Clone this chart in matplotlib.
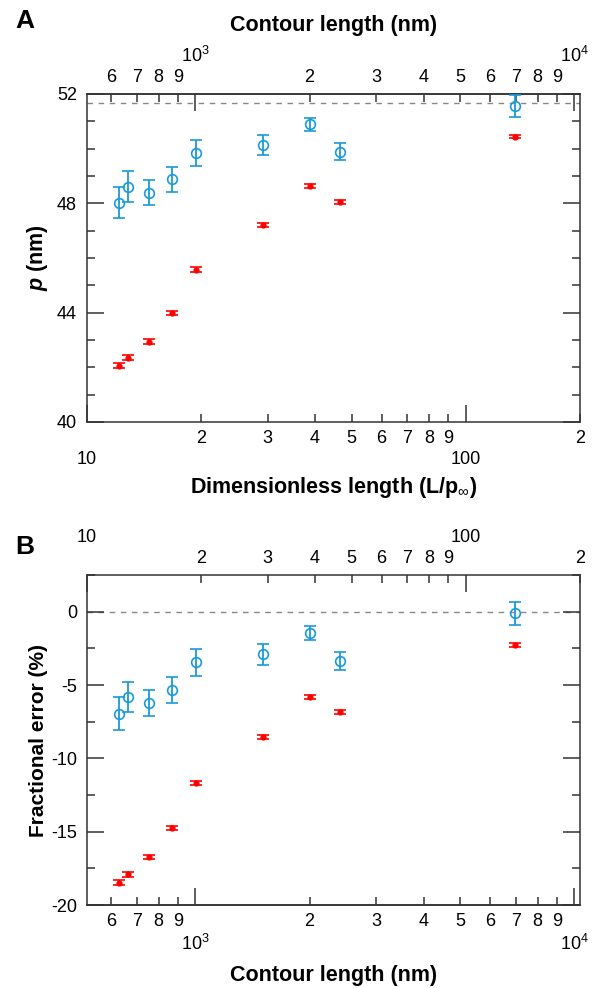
import numpy as np
import matplotlib
matplotlib.use('agg')
import matplotlib.pyplot as plt
from matplotlib.ticker import FixedLocator, FixedFormatter, FuncFormatter, MultipleLocator, NullFormatter

plt.rcParams['font.family'] = ['Liberation Sans', 'DejaVu Sans']
plt.rcParams['mathtext.fontset'] = 'custom'
plt.rcParams['mathtext.rm'] = 'Liberation Sans'
plt.rcParams['mathtext.it'] = 'Liberation Sans:italic'
plt.rcParams['mathtext.bf'] = 'Liberation Sans:bold'
plt.rcParams['mathtext.bfit'] = 'Liberation Sans:italic:bold'
plt.rcParams['axes.unicode_minus'] = False

# persistence length at infinite contour length (nm)
p_inf = 51.65

# contour lengths of the chains (nm)
contour = [630, 665, 755, 865, 1005, 1510, 2000, 2410, 6970]

# panel A: apparent persistence length (nm)
p_blue = [48.02, 48.61, 48.39, 48.87, 49.83, 50.13, 50.88, 49.88, 51.56]
p_blue_err = [0.57, 0.55, 0.45, 0.45, 0.48, 0.37, 0.24, 0.31, 0.41]
p_red = [42.06, 42.35, 42.94, 43.99, 45.57, 47.21, 48.62, 48.05, 50.44]
p_red_err = [0.09, 0.09, 0.09, 0.08, 0.08, 0.07, 0.07, 0.07, 0.07]

# panel B: fractional error (%)
f_blue = [-6.95, -5.82, -6.25, -5.32, -3.45, -2.91, -1.43, -3.36, -0.11]
f_blue_err = [1.14, 1.05, 0.88, 0.88, 0.93, 0.73, 0.48, 0.60, 0.77]
f_red = [-18.49, -17.90, -16.72, -14.73, -11.70, -8.52, -5.80, -6.86, -2.27]
f_red_err = [0.17, 0.17, 0.16, 0.15, 0.15, 0.14, 0.13, 0.13, 0.13]

dimless = np.array(contour) / p_inf

blue = '#1a9ad8'
red = '#ff0000'
axcol = '#333333'
tsize = 13
lsize = 15.5

dim_major = [10, 100]
dim_major_lab = ['10', '100']
dim_minor = [20, 30, 40, 50, 60, 70, 80, 90, 200]
con_major = [1000, 10000]
con_major_lab = ['$10^{3}$', '$10^{4}$']
con_minor = [600, 700, 800, 900, 2000, 3000, 4000, 5000, 6000, 7000, 8000, 9000]


def lead_digit(v, pos):
    return '%d' % round(v / 10 ** np.floor(np.log10(v) + 1e-9))


def set_log_ticks(axis, majors, major_labels, minors):
    axis.set_major_locator(FixedLocator(majors))
    axis.set_major_formatter(FixedFormatter(major_labels))
    axis.set_minor_locator(FixedLocator(minors))
    axis.set_minor_formatter(FuncFormatter(lead_digit))


def style_x(ax_, major_pad=21):
    ax_.tick_params(axis='x', which='major', direction='in', length=12, width=1.1,
                    pad=major_pad, labelsize=tsize, color=axcol)
    ax_.tick_params(axis='x', which='minor', direction='in', length=5.5, width=1.1,
                    pad=6, labelsize=tsize, color=axcol)


def style_y(ax_):
    ax_.tick_params(axis='y', which='both', direction='in', left=True, right=True,
                    labelright=False, width=1.1, labelsize=tsize, pad=7, color=axcol)
    ax_.tick_params(axis='y', which='major', length=12)
    ax_.tick_params(axis='y', which='minor', length=5.5)
    for s in ax_.spines.values():
        s.set_color(axcol)
        s.set_linewidth(1.1)


fig = plt.figure(figsize=(5.94, 9.88), dpi=100)
inv = (lambda x: x * p_inf, lambda x: x / p_inf)

# ---------------- panel A
axA = fig.add_axes([0.146, 0.573, 0.830, 0.332])
axA.set_xscale('log')
axA.axhline(p_inf, color='#888888', lw=1, ls=(0, (4, 4)), zorder=1)
axA.errorbar(dimless, p_blue, yerr=p_blue_err, fmt='o', ms=7, mfc='none', mec=blue,
             mew=1.2, ecolor=blue, elinewidth=1.3, capsize=4.5, capthick=1.3, zorder=3)
axA.errorbar(dimless, p_red, yerr=p_red_err, fmt='o', ms=3.5, mfc=red, mec=red,
             ecolor=red, elinewidth=1.2, capsize=4.5, capthick=1.2, zorder=3)
axA.set_xlim(10, 200)
axA.set_ylim(40, 52)
set_log_ticks(axA.xaxis, dim_major, dim_major_lab, dim_minor)
axA.yaxis.set_major_locator(MultipleLocator(4))
axA.yaxis.set_minor_locator(MultipleLocator(1))
style_x(axA)
style_y(axA)
axA.set_xlabel('Dimensionless length (L/p$_{\\infty}$)', fontsize=lsize, fontweight='bold',
               labelpad=5)
axA.set_ylabel('$\\mathbfit{p}$ (nm)', fontsize=lsize, fontweight='bold', labelpad=5)

secA = axA.secondary_xaxis('top', functions=inv)
set_log_ticks(secA.xaxis, con_major, con_major_lab, con_minor)
style_x(secA, major_pad=20)
secA.spines['top'].set_color(axcol)
secA.spines['top'].set_linewidth(1.1)
secA.set_xlabel('Contour length (nm)', fontsize=lsize, fontweight='bold', labelpad=11)

# ---------------- panel B
axB = fig.add_axes([0.146, 0.084, 0.830, 0.334])
axB.set_xscale('log')
axB.axhline(0, color='#888888', lw=1, ls=(0, (4, 4)), zorder=1)
axB.errorbar(dimless, f_blue, yerr=f_blue_err, fmt='o', ms=7, mfc='none', mec=blue,
             mew=1.2, ecolor=blue, elinewidth=1.3, capsize=4.5, capthick=1.3, zorder=3)
axB.errorbar(dimless, f_red, yerr=f_red_err, fmt='o', ms=3.5, mfc=red, mec=red,
             ecolor=red, elinewidth=1.2, capsize=4.5, capthick=1.2, zorder=3)
axB.set_xlim(10, 200)
axB.set_ylim(-20, 2.5)
axB.xaxis.tick_top()
set_log_ticks(axB.xaxis, dim_major, dim_major_lab, dim_minor)
axB.yaxis.set_major_locator(MultipleLocator(5))
axB.yaxis.set_minor_locator(MultipleLocator(2.5))
axB.yaxis.set_minor_formatter(NullFormatter())
style_x(axB)
style_y(axB)
axB.set_ylabel('Fractional error (%)', fontsize=15, fontweight='bold', labelpad=2)

secB = axB.secondary_xaxis('bottom', functions=inv)
set_log_ticks(secB.xaxis, con_major, con_major_lab, con_minor)
style_x(secB)
secB.spines['bottom'].set_color(axcol)
secB.spines['bottom'].set_linewidth(1.1)
secB.set_xlabel('Contour length (nm)', fontsize=lsize, fontweight='bold', labelpad=8)

fig.text(0.026, 0.979, 'A', fontsize=19, fontweight='bold', va='center')
fig.text(0.026, 0.446, 'B', fontsize=19, fontweight='bold', va='center')

fig.savefig('out.png', dpi=100)
